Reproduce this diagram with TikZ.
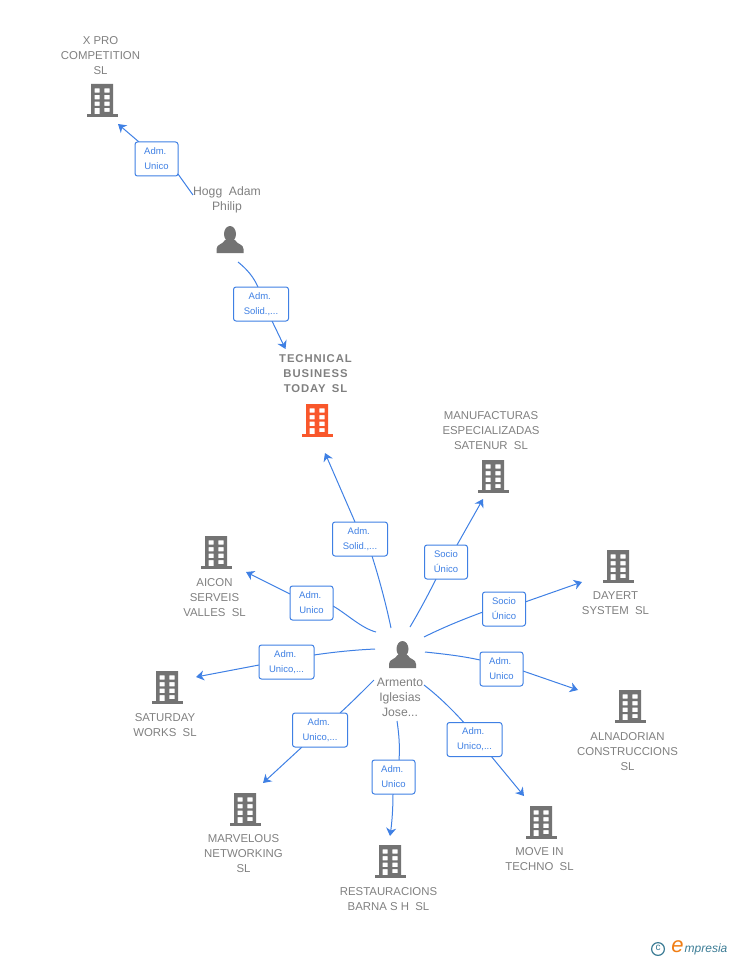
\documentclass[tikz,border=0pt]{standalone}
\usepackage{fontspec}
\setmainfont{Liberation Sans}
\usetikzlibrary{arrows.meta}
\definecolor{lnk}{HTML}{3F80E4}
\definecolor{txt}{HTML}{808080}
\definecolor{ico}{HTML}{737373}
\definecolor{hot}{HTML}{F9572B}
\definecolor{teal}{HTML}{3C7C95}
\definecolor{org}{HTML}{F07D14}
\tikzset{
 x=1pt,y=-1pt,
 lab/.style={draw=lnk,line width=1pt,rounded corners=2.5pt,fill=white,text=lnk,align=center,inner sep=0pt,
   font=\fontsize{9.5}{15}\selectfont},
 lab43/.style={lab,minimum width=43pt,minimum height=34pt},
 lab55/.style={lab,minimum width=55pt,minimum height=34pt},
 cname/.style={text=txt,align=center,inner sep=0pt,font=\fontsize{11.4}{15}\selectfont},
 pname/.style={text=txt,align=center,inner sep=0pt,font=\fontsize{12.2}{15}\selectfont},
 conn/.style={draw=lnk,line width=1pt},
 arr/.style={conn,-{Stealth[length=8pt,width=10pt,inset=2.5pt]}},
 pt/.style={inner sep=0pt,minimum size=0pt},
 bld/.pic={
   \fill[pic actions] (-15.5,14) rectangle (15.5,17);
   \fill[pic actions,even odd rule] (-11,-16) rectangle (11,15)
     (-7.3,-11.7) rectangle (-2.3,-7.3) (2.3,-11.7) rectangle (7.5,-7.3)
     (-7.3,-5) rectangle (-2.3,-0.7) (2.3,-5) rectangle (7.5,-0.7)
     (-7.3,1.7) rectangle (-2.3,6) (2.3,1.7) rectangle (7.5,6)
     (-7.3,8) rectangle (-2.3,15) (2.3,8) rectangle (7.5,12);
 },
 psn/.pic={
   \fill[pic actions] (0,-5) ellipse (6 and 8);
   \fill[pic actions] (-13.5,14) -- (-13.5,10) .. controls (-13.5,5) and (-7,5.5) .. (-5,1) -- (5,1)
      .. controls (7,5.5) and (13.5,5) .. (13.5,10) -- (13.5,14) -- cycle;
 },
}
\newcommand{\sep}{\hspace{0.55em}}
\newcommand{\ad}{\mbox{Adm.\hspace{2.5pt}}}
\begin{document}
\begin{tikzpicture}
\useasboundingbox (0,0) rectangle (728,960);
% icons
\coordinate (ixpro) at (102,100); \pic[fill=ico] at (ixpro) {bld};
\coordinate (itech) at (317,420); \pic[fill=hot] at (itech) {bld};
\coordinate (iman) at (493,476); \pic[fill=ico] at (iman) {bld};
\coordinate (iday) at (618,566); \pic[fill=ico] at (iday) {bld};
\coordinate (ialn) at (630,706); \pic[fill=ico] at (ialn) {bld};
\coordinate (imov) at (541,822); \pic[fill=ico] at (imov) {bld};
\coordinate (ires) at (390,861); \pic[fill=ico] at (ires) {bld};
\coordinate (imar) at (245,809); \pic[fill=ico] at (imar) {bld};
\coordinate (isat) at (167,687); \pic[fill=ico] at (isat) {bld};
\coordinate (iaic) at (216,552); \pic[fill=ico] at (iaic) {bld};
\coordinate (ihog) at (230,239); \pic[fill=ico] at (ihog) {psn};
\coordinate (iarm) at (402.5,654); \pic[fill=ico] at (iarm) {psn};
% names
\node[cname] (nxpro) at (100.5,55.8) {X PRO\\COMPETITION\\SL};
\node[cname,font=\fontsize{11.3}{15}\selectfont\bfseries\addfontfeature{LetterSpace=8}] (ntech) at (315.5,374) {TECHNICAL\\BUSINESS\\TODAY\sep SL};
\node[cname] (nman) at (491,430.8) {MANUFACTURAS\\ESPECIALIZADAS\\SATENUR\sep SL};
\node[cname] (nday) at (615.5,603.3) {DAYERT\\SYSTEM\sep SL};
\node[cname] (naln) at (627.5,751.8) {ALNADORIAN\\CONSTRUCCIONS\\SL};
\node[cname] (nmov) at (539.5,859.3) {MOVE IN\\TECHNO\sep SL};
\node[cname] (nres) at (388.5,899.3) {RESTAURACIONS\\BARNA S H\sep SL};
\node[cname] (nmar) at (243.5,853.8) {MARVELOUS\\NETWORKING\\SL};
\node[cname] (nsat) at (165,725.3) {SATURDAY\\WORKS\sep SL};
\node[cname] (naic) at (214.5,597.8) {AICON\\SERVEIS\\VALLES\sep SL};
\node[pname] (nhog) at (227,200) {Hogg\sep Adam\\Philip};
\node[pname] (narm) at (400,697) {Armento\\Iglesias\\Jose...};
% connector ends
\foreach \n/\x/\y in {a1/193/195,a2/238/262,a3/391/628,a4/410/627,a5/424/637,a6/425/652,a7/424/685,a8/397/721,a9/374/680,a10/375/649,a11/376/632,
  t1/118/124,t2/285.5/349,t3/325/453,t4/483/499,t5/582/582,t6/578/690,t7/524/796,t8/390/836,t9/263/783,t10/196/677,t11/246/572}
  {\coordinate (\n) at (\x,\y);}
% connectors
\draw[conn] (a1) -- (178,174);
\draw[arr] (139,142) -- (t1);
\draw[conn] (a2) .. controls (248,270) and (254,278) .. (258,287);
\draw[arr] (272,321) -- (t2);
\draw[conn] (a3) .. controls (386,604) and (379,578) .. (372,556);
\draw[arr] (355,522) -- (t3);
\draw[conn] (a4) .. controls (420,610) and (428,595) .. (436,579);
\draw[arr] (457,545) -- (t4);
\draw[conn] (a5) .. controls (444,627) and (464,619) .. (483,612);
\draw[arr] (525,602) -- (t5);
\draw[conn] (a6) .. controls (444,654) and (462,656) .. (480,660);
\draw[arr] (523,671) -- (t6);
\draw[conn] (a7) .. controls (437,695) and (452,709) .. (466,725);
\draw[arr] (491,756) -- (t7);
\draw[conn] (a8) .. controls (399,734) and (400,747) .. (399,760);
\draw[arr] (393,794) .. controls (393,808) and (392,822) .. (t8);
\draw[conn] (a9) .. controls (363,691) and (352,702) .. (340,713);
\draw[arr] (302,747) -- (t9);
\draw[conn] (a10) .. controls (354,650) and (334,652) .. (314,655);
\draw[arr] (259,665) -- (t10);
\draw[conn] (a11) .. controls (361,628) and (347,614) .. (333,606);
\draw[arr] (290,594) -- (t11);
% labels
\node[lab43] (l1) at (156.5,159) {\ad\\Unico};
\node[lab55] (l2) at (261,304) {\ad\\Solid.,...};
\node[lab55] (l3) at (360,539) {\ad\\Solid.,...};
\node[lab43] (l4) at (446,562) {Socio\\Único};
\node[lab43] (l5) at (504,609) {Socio\\Único};
\node[lab43] (l6) at (501.5,669) {\ad\\Unico};
\node[lab55] (l7) at (474.5,739.5) {\ad\\Unico,...};
\node[lab43] (l8) at (393.5,777) {\ad\\Unico};
\node[lab55] (l9) at (320,730) {\ad\\Unico,...};
\node[lab55] (l10) at (286.5,662) {\ad\\Unico,...};
\node[lab43] (l11) at (311.5,603) {\ad\\Unico};
% logo
\node[pt] (lc) at (658,949) {};
\draw[teal,line width=1.2pt] (lc) circle (6.4);
\node[inner sep=0pt,text=teal,font=\fontsize{10}{10}\selectfont] (lcc) at (658,948) {c};
\node[inner sep=0pt,text=org,font=\fontsize{22}{22}\selectfont\itshape] (le) at (677.5,946.5) {e};
\node[inner sep=0pt,anchor=west,text=teal,font=\fontsize{12}{12}\selectfont\itshape] (lm) at (684.5,949.5) {mpresia};
\end{tikzpicture}
\end{document}
